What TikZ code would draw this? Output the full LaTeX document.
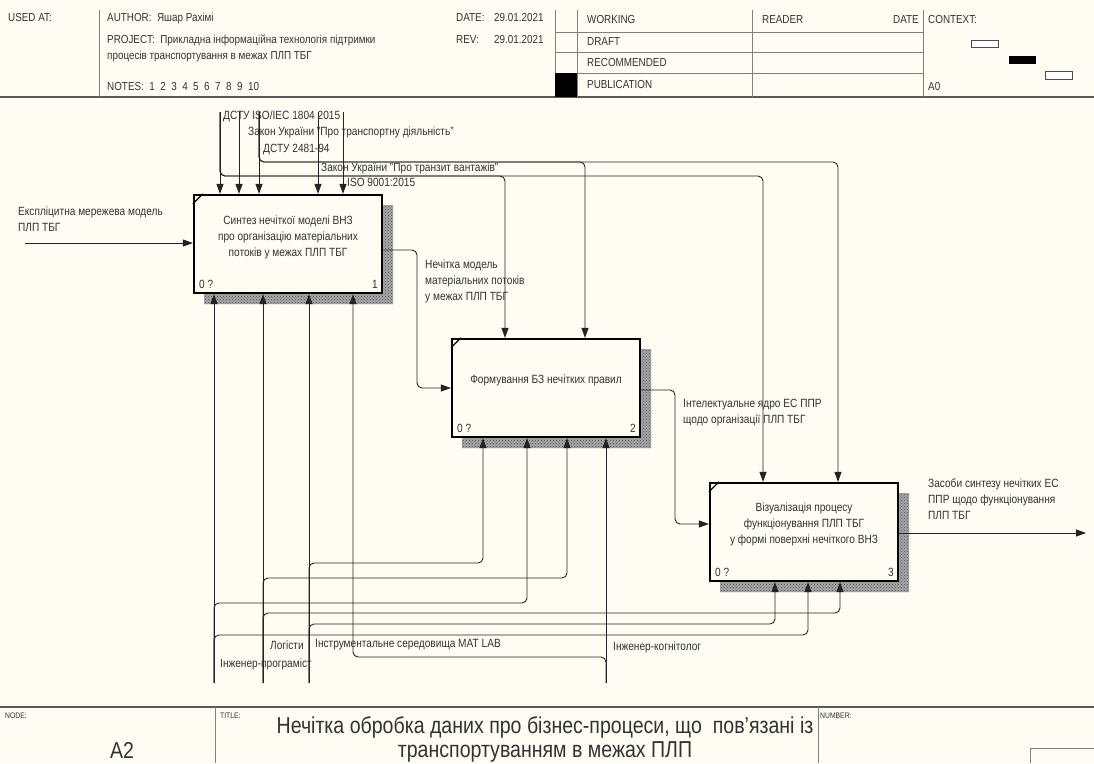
\documentclass[tikz,border=0pt]{standalone}
\usepackage{fontspec}
\setmainfont[FakeStretch=0.85]{Liberation Sans}
\usetikzlibrary{arrows.meta,patterns}
\definecolor{bg}{RGB}{255,253,243}
\definecolor{ink}{RGB}{35,35,35}
\definecolor{txt}{RGB}{50,50,50}
\begin{document}
\begin{tikzpicture}[x=1pt,y=-1pt,
  every node/.style={inner sep=0pt, text=txt},
  f/.style={font=\fontsize{11.9}{16}\selectfont},
  lbl/.style={f, anchor=west, align=left},
  hdr/.style={font=\fontsize{11.6}{14}\selectfont, anchor=west},
  small/.style={font=\fontsize{8}{9}\selectfont, anchor=west},
  big/.style={font=\fontsize{23}{24}\selectfont, align=center},
  funcbox/.style={draw=black, line width=2.2pt, fill=bg, minimum width=188pt, minimum height=98pt},
  boxtxt/.style={f, align=center},
  arr/.style={draw=ink, line width=0.9pt, rounded corners=5pt, -{Triangle[length=10pt,width=7pt]}},
  shade/.style={fill=black!35, postaction={pattern=crosshatch dots, pattern color=black!70}},
  rule/.style={draw=gray, line width=0.8pt},
  frame/.style={draw=gray!70!black, line width=1.6pt},
]
\path[use as bounding box, fill=bg] (0,0) rectangle (1094,763);

% ---------- header ----------
\draw[frame] (0,97) -- (1094,97);
\draw[rule] (99,10) -- (99,97);
\draw[rule] (555,10) -- (555,97);
\draw[rule] (577,10) -- (577,97);
\draw[rule] (752,10) -- (752,97);
\draw[rule] (923,10) -- (923,97);
\draw[rule] (555,32) -- (923,32);
\draw[rule] (555,52) -- (923,52);
\draw[rule] (555,73) -- (923,73);
\fill[black] (555,73) rectangle (577,97);
\draw[gray!60!black, fill=white, line width=0.8pt] (971,40) rectangle (998,47);
\fill[black] (1009,56) rectangle (1036,64);
\draw[gray!60!black, fill=white, line width=0.8pt] (1045,71) rectangle (1072,79);

\node[hdr] (hUsed) at (8,18) {USED AT:};
\node[hdr] (hAuth) at (107,18) {AUTHOR:\ \ Яшар Рахімі};
\node[hdr] (hProj) at (107,40) {PROJECT:\ \ Прикладна інформаційна технологія підтримки};
\node[hdr] (hProj2) at (107,56) {процесів транспортування в межах ПЛП ТБГ};
\node[hdr] (hNotes) at (107,87) {NOTES:\ \ 1\ \ 2\ \ 3\ \ 4\ \ 5\ \ 6\ \ 7\ \ 8\ \ 9\ \ 10};
\node[hdr] (hDate) at (456,18) {DATE:};
\node[hdr] (hDv) at (494,18) {29.01.2021};
\node[hdr] (hRev) at (456,40) {REV:};
\node[hdr] (hRv) at (494,40) {29.01.2021};
\node[hdr] (sW) at (587,20) {WORKING};
\node[hdr] (sR) at (762,20) {READER};
\node[hdr, anchor=east] (sD) at (919,20) {DATE};
\node[hdr] (sC) at (928,20) {CONTEXT:};
\node[hdr] (sDr) at (587,42) {DRAFT};
\node[hdr] (sRe) at (587,63) {RECOMMENDED};
\node[hdr] (sP) at (587,85) {PUBLICATION};
\node[hdr] (sA0) at (928,87) {A0};

% ---------- footer ----------
\draw[frame] (0,707) -- (1094,707);
\draw[rule] (215,707) -- (215,763);
\draw[rule] (818,707) -- (818,763);
\draw[rule] (1030,763) -- (1030,748) -- (1094,748);
\node[small] (fNode) at (5,716) {NODE:};
\node[small] (fTitle) at (220,716) {TITLE:};
\node[small] (fNum) at (820,716) {NUMBER:};
\node[big] (fA2) at (122,750) {A2};
\node[big] (fT) at (545,739) {Нечітка обробка даних про бізнес-процеси, що\ \ пов'язані із\\транспортуванням в межах ПЛП};

% ---------- shadows ----------
\fill[shade] (382,205) -- (393,205) -- (393,304) -- (204,304) -- (204,293) -- (382,293) -- cycle;
\fill[shade] (640,349) -- (651,349) -- (651,448) -- (462,448) -- (462,437) -- (640,437) -- cycle;
\fill[shade] (898,493) -- (909,493) -- (909,592) -- (720,592) -- (720,581) -- (898,581) -- cycle;

% ---------- boxes ----------
\node[funcbox] (b1) at (288,244) {};
\node[funcbox] (b2) at (546,388) {};
\node[funcbox] (b3) at (804,532) {};
\draw[line width=1.2pt] ([yshift=-10pt]b1.north west) -- ([xshift=10pt]b1.north west);
\draw[line width=1.2pt] ([yshift=-10pt]b2.north west) -- ([xshift=10pt]b2.north west);
\draw[line width=1.2pt] ([yshift=-10pt]b3.north west) -- ([xshift=10pt]b3.north west);

\node[boxtxt] (t1) at (288,237) {Синтез нечіткої моделі ВНЗ\\про організацію матеріальних\\потоків у межах ПЛП ТБГ};
\node[boxtxt] (t2) at (546,380) {Формування БЗ нечітких правил};
\node[boxtxt] (t3) at (804,524) {Візуалізація процесу\\функціонування ПЛП ТБГ\\у формі поверхні нечіткого ВНЗ};
\node[f, anchor=west] (n1a) at (199,284) {0 ?};
\node[f, anchor=east] (n1b) at (378,284) {1};
\node[f, anchor=west] (n2a) at (457,428) {0 ?};
\node[f, anchor=east] (n2b) at (636,428) {2};
\node[f, anchor=west] (n3a) at (715,572) {0 ?};
\node[f, anchor=east] (n3b) at (894,572) {3};

% ---------- controls ----------
\coordinate (cA) at (220,112);
\coordinate (cB) at (239,112);
\coordinate (cC) at (259,112);
\coordinate (cD) at (318,112);
\coordinate (cE) at (343,112);
\coordinate (jA2) at (505,176);
\coordinate (jA3) at (763,176);
\coordinate (jC2) at (585,162);
\coordinate (jC3) at (838,162);
\draw[arr] (cA) -- (cA |- b1.north);
\draw[arr] (cB) -- (cB |- b1.north);
\draw[arr] (cC) -- (cC |- b1.north);
\draw[arr] (cD) -- (cD |- b1.north);
\draw[arr] (cE) -- (cE |- b1.north);
\draw[arr] (cA) |- (jA2) -- (jA2 |- b2.north);
\draw[arr] (cA) |- (jA3) -- (jA3 |- b3.north);
\draw[arr] (cC) |- (jC2) -- (jC2 |- b2.north);
\draw[arr] (cC) |- (jC3) -- (jC3 |- b3.north);

\node[lbl] (lc1) at (223,116) {ДСТУ ISO/IEC 1804 2015};
\node[lbl] (lc2) at (248,132) {Закон України "Про транспортну діяльність"};
\node[lbl] (lc3) at (263,150) {ДСТУ 2481-94};
\node[lbl] (lc4) at (321,168) {Закон України "Про транзит вантажів"};
\node[lbl] (lc5) at (347,182) {ISO 9001:2015};

% ---------- inputs / outputs ----------
\coordinate (inA) at (25,243);
\coordinate (r12) at (417,0);
\coordinate (r23) at (675,0);
\coordinate (q3) at (710,524);
\coordinate (outA) at (1086,533);
\draw[arr] (inA) -- (inA -| b1.west);
\draw[arr] ([yshift=-6pt]b1.east) -| (r12 |- b2.west) -- (b2.west);
\draw[arr] ([yshift=-2pt]b2.east) -| (r23 |- q3) -- (q3 -| b3.west);
\draw[arr] ([yshift=-1pt]b3.east) -- (outA);

\node[lbl] (lin) at (18,219) {Експліцитна мережева модель\\ПЛП ТБГ};
\node[lbl] (lo1) at (425,281) {Нечітка модель\\матеріальних потоків\\у межах ПЛП ТБГ};
\node[lbl] (lo2) at (683,413) {Інтелектуальне ядро ЕС ППР\\щодо організації ПЛП ТБГ};
\node[lbl] (lo3) at (928,499) {Засоби синтезу нечітких ЕС\\ППР щодо функціонування\\ПЛП ТБГ};

% ---------- mechanisms ----------
\coordinate (mP) at (214,683);
\coordinate (mL) at (263,683);
\coordinate (mM) at (309,683);
\coordinate (mK) at (606,683);
\coordinate (kM2) at (483,563);
\coordinate (kL2) at (567,578);
\coordinate (kP2) at (527,603);
\coordinate (kL3) at (840,613);
\coordinate (kM3) at (775,624);
\coordinate (kP3) at (808,635);
\coordinate (kK1) at (353,657);
\draw[arr] (mP) -- (mP |- b1.south);
\draw[arr] (mL) -- (mL |- b1.south);
\draw[arr] (mM) -- (mM |- b1.south);
\draw[arr] (mK) -- (mK |- b2.south);
\draw[arr] (mM) |- (kM2) -- (kM2 |- b2.south);
\draw[arr] (mL) |- (kL2) -- (kL2 |- b2.south);
\draw[arr] (mP) |- (kP2) -- (kP2 |- b2.south);
\draw[arr] (mL) |- (kL3) -- (kL3 |- b3.south);
\draw[arr] (mM) |- (kM3) -- (kM3 |- b3.south);
\draw[arr] (mP) |- (kP3) -- (kP3 |- b3.south);
\draw[arr] (mK) |- (kK1) -- (kK1 |- b1.south);

\node[lbl] (lm1) at (270,645) {Логісти};
\node[lbl] (lm2) at (220,664) {Інженер-програміст};
\node[lbl] (lm3) at (315,645) {Інструментальне середовища MAT LAB};
\node[lbl] (lm4) at (613,647) {Інженер-когнітолог};
\end{tikzpicture}
\end{document}
